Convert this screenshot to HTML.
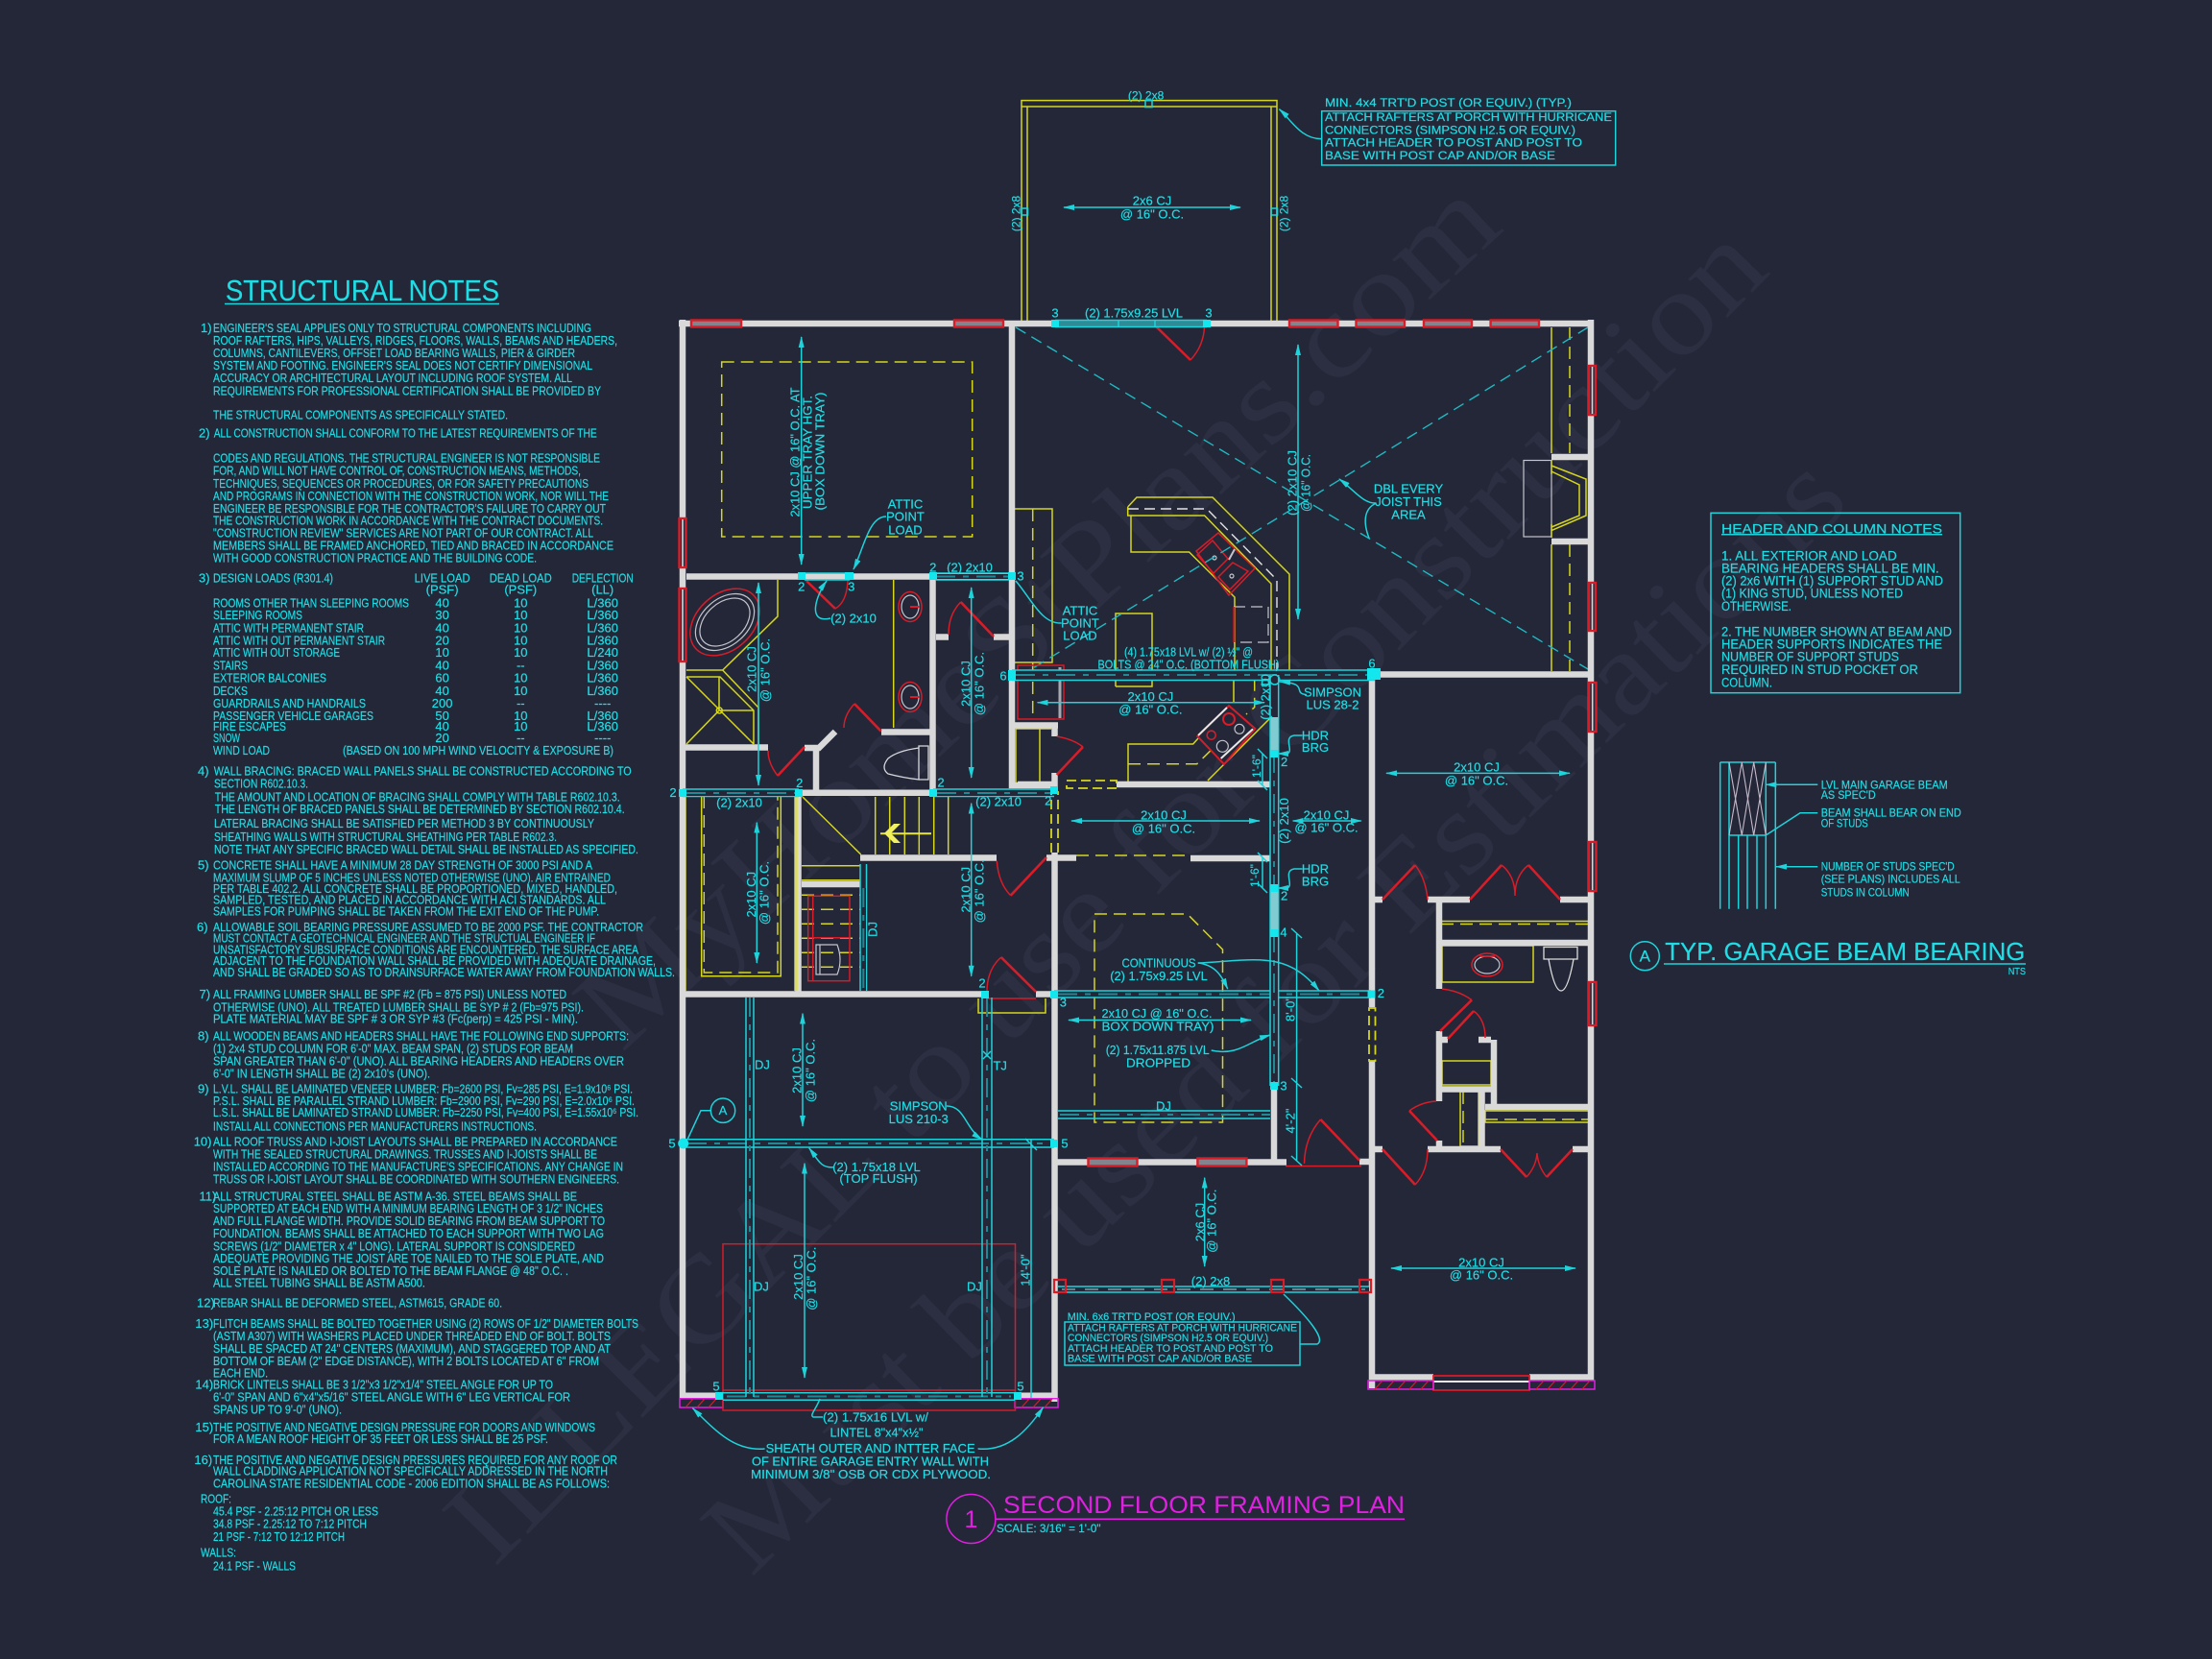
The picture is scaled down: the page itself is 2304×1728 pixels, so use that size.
<!DOCTYPE html>
<html lang="en"><head><meta charset="utf-8"><title>Second Floor Framing Plan</title>
<style>
html,body{margin:0;padding:0;background:#232738}
svg{display:block}
text{font-family:"Liberation Sans",sans-serif;fill:#1fdde4;stroke:#1fdde4;stroke-width:.2}
.n{font-size:13px}
.c{font-size:13px;text-anchor:middle;dominant-baseline:central}
.l{font-size:13px;dominant-baseline:central}
text.w{font-family:"Liberation Serif",serif;font-size:125px;fill:#2b2f41;stroke:none;text-anchor:middle;dominant-baseline:central}
.wall{fill:none;stroke:#d9d9d9;stroke-width:6.5}
.y{fill:none;stroke:#d6d61e;stroke-width:1.5}
.yd{fill:none;stroke:#d6d61e;stroke-width:1.5;stroke-dasharray:13 7}
.r{fill:none;stroke:#d81c28;stroke-width:1.5}
.rl{fill:none;stroke:#d81c28;stroke-width:2.6}
.g{fill:none;stroke:#c4c4cc;stroke-width:1.2}
.cy{fill:none;stroke:#1fd3da;stroke-width:1.5}
.cd{fill:none;stroke:#1fb9c2;stroke-width:1.4;stroke-dasharray:12 7}
.b{fill:none;stroke:#1fd3da;stroke-width:1.5}
.bc{fill:none;stroke:#1f8a96;stroke-width:2;stroke-dasharray:20 8 6 8}
.win{fill:#84848e;stroke:#d81c28;stroke-width:2.4}
.vw{fill:#2a2d3e;stroke:#d81c28;stroke-width:2.4}
.p{fill:#14e6ee}
.m{fill:none;stroke:#e020e0;stroke-width:1.5}
</style></head><body>
<svg xmlns="http://www.w3.org/2000/svg" width="2304" height="1728" viewBox="0 0 2304 1728">
<defs>
<marker id="a" viewBox="0 0 12 6" refX="11" refY="3" markerWidth="12" markerHeight="6" markerUnits="userSpaceOnUse" orient="auto-start-reverse"><path d="M0 0L12 3L0 6z" fill="#1fd3da"/></marker>
</defs>
<rect width="2304" height="1728" fill="#232738"/>
<!-- watermark -->
<text class="w" transform="translate(1080 638) rotate(-43)" textLength="1259" lengthAdjust="spacingAndGlyphs">MyHomeStPlans.com</text>
<text class="w" transform="translate(1151 930) rotate(-45.4)" textLength="1896" lengthAdjust="spacingAndGlyphs">ILLEGAL to use for Construction</text>
<text class="w" transform="translate(1327 1055) rotate(-44.3)" textLength="1602" lengthAdjust="spacingAndGlyphs">Must be used for Estimations</text>

<!-- structural notes -->
<text x="235" y="313" font-size="31" textLength="285" lengthAdjust="spacingAndGlyphs">STRUCTURAL NOTES</text>
<path d="M234 316.5H520" class="cy"/>
<g class="nt">
<text class="n" x="209" y="346">1)</text>
<text class="n" x="222" y="346" textLength="394" lengthAdjust="spacingAndGlyphs">ENGINEER'S SEAL APPLIES ONLY TO STRUCTURAL COMPONENTS INCLUDING</text>
<text class="n" x="222" y="359" textLength="421" lengthAdjust="spacingAndGlyphs">ROOF RAFTERS, HIPS, VALLEYS, RIDGES, FLOORS, WALLS, BEAMS AND HEADERS,</text>
<text class="n" x="222" y="372" textLength="377" lengthAdjust="spacingAndGlyphs">COLUMNS, CANTILEVERS, OFFSET LOAD BEARING WALLS, PIER &amp; GIRDER</text>
<text class="n" x="222" y="385" textLength="395" lengthAdjust="spacingAndGlyphs">SYSTEM AND FOOTING.  ENGINEER'S SEAL DOES NOT CERTIFY DIMENSIONAL</text>
<text class="n" x="222" y="398" textLength="374" lengthAdjust="spacingAndGlyphs">ACCURACY OR ARCHITECTURAL LAYOUT INCLUDING ROOF SYSTEM. ALL</text>
<text class="n" x="222" y="411.4" textLength="404" lengthAdjust="spacingAndGlyphs">REQUIREMENTS FOR PROFESSIONAL CERTIFICATION SHALL BE PROVIDED BY</text>
<text class="n" x="222" y="436.5" textLength="307" lengthAdjust="spacingAndGlyphs">THE STRUCTURAL COMPONENTS AS SPECIFICALLY STATED.</text>
<text class="n" x="207" y="455.5">2)</text>
<text class="n" x="222.7" y="455.5" textLength="399" lengthAdjust="spacingAndGlyphs">ALL CONSTRUCTION SHALL CONFORM TO THE LATEST REQUIREMENTS OF THE</text>
<text class="n" x="222" y="481.7" textLength="403" lengthAdjust="spacingAndGlyphs">CODES AND REGULATIONS. THE STRUCTURAL ENGINEER IS NOT RESPONSIBLE</text>
<text class="n" x="222" y="494.7" textLength="383" lengthAdjust="spacingAndGlyphs">FOR, AND WILL NOT HAVE CONTROL OF, CONSTRUCTION MEANS, METHODS,</text>
<text class="n" x="222" y="507.8" textLength="391" lengthAdjust="spacingAndGlyphs">TECHNIQUES, SEQUENCES OR PROCEDURES, OR FOR SAFETY PRECAUTIONS</text>
<text class="n" x="222" y="520.9" textLength="412" lengthAdjust="spacingAndGlyphs">AND PROGRAMS IN CONNECTION WITH THE CONSTRUCTION WORK, NOR WILL THE</text>
<text class="n" x="222" y="534" textLength="409" lengthAdjust="spacingAndGlyphs">ENGINEER BE RESPONSIBLE FOR THE CONTRACTOR'S FAILURE TO CARRY OUT</text>
<text class="n" x="222" y="546.7" textLength="406" lengthAdjust="spacingAndGlyphs">THE CONSTRUCTION WORK IN ACCORDANCE WITH THE CONTRACT DOCUMENTS.</text>
<text class="n" x="222" y="559.5" textLength="396" lengthAdjust="spacingAndGlyphs">"CONSTRUCTION REVIEW" SERVICES ARE NOT PART OF OUR CONTRACT. ALL</text>
<text class="n" x="222" y="572.6" textLength="417" lengthAdjust="spacingAndGlyphs">MEMBERS SHALL BE FRAMED ANCHORED, TIED AND BRACED IN ACCORDANCE</text>
<text class="n" x="222" y="585.6" textLength="337" lengthAdjust="spacingAndGlyphs">WITH GOOD CONSTRUCTION PRACTICE AND THE BUILDING CODE.</text>

<text class="n" x="207" y="606.3">3)</text>
<text class="n" x="222" y="606.3" textLength="125" lengthAdjust="spacingAndGlyphs">DESIGN LOADS (R301.4)</text>
<text class="n" x="460.6" y="606.3" text-anchor="middle" textLength="58" lengthAdjust="spacingAndGlyphs">LIVE LOAD</text>
<text class="n" x="542.3" y="606.3" text-anchor="middle" textLength="65" lengthAdjust="spacingAndGlyphs">DEAD LOAD</text>
<text class="n" x="627.7" y="606.3" text-anchor="middle" textLength="64" lengthAdjust="spacingAndGlyphs">DEFLECTION</text>
<text class="n" x="460.6" y="618.4" text-anchor="middle">(PSF)</text><text class="n" x="542.3" y="618.4" text-anchor="middle">(PSF)</text><text class="n" x="627.7" y="618.4" text-anchor="middle">(LL)</text>
<text class="n" x="222" y="632.5" textLength="204" lengthAdjust="spacingAndGlyphs">ROOMS OTHER THAN SLEEPING ROOMS</text>
<text class="n" x="222" y="645.2" textLength="93" lengthAdjust="spacingAndGlyphs">SLEEPING ROOMS</text>
<text class="n" x="222" y="658.3" textLength="157" lengthAdjust="spacingAndGlyphs">ATTIC WITH PERMANENT STAIR</text>
<text class="n" x="222" y="671.4" textLength="179" lengthAdjust="spacingAndGlyphs">ATTIC WITH OUT PERMANENT STAIR</text>
<text class="n" x="222" y="684.1" textLength="132" lengthAdjust="spacingAndGlyphs">ATTIC WITH OUT STORAGE</text>
<text class="n" x="222" y="697.6" textLength="36" lengthAdjust="spacingAndGlyphs">STAIRS</text>
<text class="n" x="222" y="710.6" textLength="118" lengthAdjust="spacingAndGlyphs">EXTERIOR BALCONIES</text>
<text class="n" x="222" y="724" textLength="36" lengthAdjust="spacingAndGlyphs">DECKS</text>
<text class="n" x="222" y="737.2" textLength="159" lengthAdjust="spacingAndGlyphs">GUARDRAILS AND HANDRAILS</text>
<text class="n" x="222" y="749.9" textLength="167" lengthAdjust="spacingAndGlyphs">PASSENGER VEHICLE GARAGES</text>
<text class="n" x="222" y="761" textLength="76" lengthAdjust="spacingAndGlyphs">FIRE ESCAPES</text>
<text class="n" x="222" y="773" textLength="28" lengthAdjust="spacingAndGlyphs">SNOW</text>
<text class="n" x="222" y="786" textLength="59" lengthAdjust="spacingAndGlyphs">WIND LOAD</text>
<text class="n" x="357" y="786" textLength="282" lengthAdjust="spacingAndGlyphs">(BASED ON 100 MPH WIND VELOCITY &amp; EXPOSURE B)</text>
<g class="vals" text-anchor="middle">
<text class="n" x="460.6" y="632.5">40</text><text class="n" x="542.3" y="632.5">10</text><text class="n" x="627.7" y="632.5">L/360</text>
<text class="n" x="460.6" y="645.2">30</text><text class="n" x="542.3" y="645.2">10</text><text class="n" x="627.7" y="645.2">L/360</text>
<text class="n" x="460.6" y="658.3">40</text><text class="n" x="542.3" y="658.3">10</text><text class="n" x="627.7" y="658.3">L/360</text>
<text class="n" x="460.6" y="671.4">20</text><text class="n" x="542.3" y="671.4">10</text><text class="n" x="627.7" y="671.4">L/360</text>
<text class="n" x="460.6" y="684.1">10</text><text class="n" x="542.3" y="684.1">10</text><text class="n" x="627.7" y="684.1">L/240</text>
<text class="n" x="460.6" y="697.6">40</text><text class="n" x="542.3" y="697.6">--</text><text class="n" x="627.7" y="697.6">L/360</text>
<text class="n" x="460.6" y="710.6">60</text><text class="n" x="542.3" y="710.6">10</text><text class="n" x="627.7" y="710.6">L/360</text>
<text class="n" x="460.6" y="724">40</text><text class="n" x="542.3" y="724">10</text><text class="n" x="627.7" y="724">L/360</text>
<text class="n" x="460.6" y="737.2">200</text><text class="n" x="542.3" y="737.2">--</text><text class="n" x="627.7" y="737.2">----</text>
<text class="n" x="460.6" y="749.9">50</text><text class="n" x="542.3" y="749.9">10</text><text class="n" x="627.7" y="749.9">L/360</text>
<text class="n" x="460.6" y="761">40</text><text class="n" x="542.3" y="761">10</text><text class="n" x="627.7" y="761">L/360</text>
<text class="n" x="460.6" y="773">20</text><text class="n" x="542.3" y="773">--</text><text class="n" x="627.7" y="773">----</text>
</g>

<text class="n" x="206" y="807.5">4)</text>
<text class="n" x="222.7" y="807.5" textLength="435" lengthAdjust="spacingAndGlyphs">WALL BRACING:  BRACED WALL PANELS SHALL BE CONSTRUCTED ACCORDING TO</text>
<text class="n" x="223" y="820.5" textLength="98" lengthAdjust="spacingAndGlyphs">SECTION R602.10.3.</text>
<text class="n" x="223.7" y="834.3" textLength="422" lengthAdjust="spacingAndGlyphs">THE AMOUNT AND LOCATION OF BRACING SHALL COMPLY WITH TABLE R602.10.3.</text>
<text class="n" x="223.7" y="847" textLength="427" lengthAdjust="spacingAndGlyphs">THE LENGTH OF BRACED PANELS SHALL BE DETERMINED BY SECTION R602.10.4.</text>
<text class="n" x="223" y="862.2" textLength="396" lengthAdjust="spacingAndGlyphs">LATERAL BRACING SHALL BE SATISFIED PER METHOD 3 BY CONTINUOUSLY</text>
<text class="n" x="223" y="876" textLength="357" lengthAdjust="spacingAndGlyphs">SHEATHING WALLS WITH STRUCTURAL SHEATHING PER TABLE R602.3.</text>
<text class="n" x="223" y="889" textLength="442" lengthAdjust="spacingAndGlyphs">NOTE THAT ANY SPECIFIC BRACED WALL DETAIL SHALL BE INSTALLED AS SPECIFIED.</text>
<text class="n" x="206" y="905.6">5)</text>
<text class="n" x="222" y="905.6" textLength="395" lengthAdjust="spacingAndGlyphs">CONCRETE SHALL HAVE A MINIMUM 28 DAY STRENGTH OF 3000 PSI AND A</text>
<text class="n" x="222" y="918.7" textLength="414" lengthAdjust="spacingAndGlyphs">MAXIMUM SLUMP OF 5 INCHES UNLESS NOTED OTHERWISE (UNO). AIR ENTRAINED</text>
<text class="n" x="222" y="930" textLength="421" lengthAdjust="spacingAndGlyphs">PER TABLE 402.2. ALL CONCRETE SHALL BE PROPORTIONED, MIXED, HANDLED,</text>
<text class="n" x="222" y="941.7" textLength="409" lengthAdjust="spacingAndGlyphs">SAMPLED, TESTED, AND PLACED IN ACCORDANCE WITH ACI STANDARDS. ALL</text>
<text class="n" x="222" y="953.5" textLength="402" lengthAdjust="spacingAndGlyphs">SAMPLES FOR PUMPING SHALL BE TAKEN FROM THE EXIT END OF THE PUMP.</text>
<text class="n" x="205" y="970">6)</text>
<text class="n" x="222" y="970" textLength="448" lengthAdjust="spacingAndGlyphs">ALLOWABLE SOIL BEARING PRESSURE ASSUMED TO BE 2000 PSF. THE CONTRACTOR</text>
<text class="n" x="222" y="981.7" textLength="398" lengthAdjust="spacingAndGlyphs">MUST CONTACT A GEOTECHNICAL ENGINEER AND THE STRUCTUAL ENGINEER IF</text>
<text class="n" x="222" y="993.4" textLength="443" lengthAdjust="spacingAndGlyphs">UNSATISFACTORY SUBSURFACE CONDITIONS ARE ENCOUNTERED. THE SURFACE AREA</text>
<text class="n" x="222" y="1005.1" textLength="461" lengthAdjust="spacingAndGlyphs">ADJACENT TO THE FOUNDATION WALL SHALL BE PROVIDED WITH ADEQUATE DRAINAGE,</text>
<text class="n" x="222" y="1016.8" textLength="481" lengthAdjust="spacingAndGlyphs">AND SHALL BE GRADED SO AS TO DRAINSURFACE WATER AWAY FROM FOUNDATION WALLS.</text>
<text class="n" x="207.5" y="1040.2">7)</text>
<text class="n" x="222" y="1040.2" textLength="368" lengthAdjust="spacingAndGlyphs">ALL FRAMING LUMBER SHALL BE SPF #2 (Fb = 875 PSI) UNLESS NOTED</text>
<text class="n" x="222" y="1053.3" textLength="386" lengthAdjust="spacingAndGlyphs">OTHERWISE (UNO). ALL TREATED LUMBER SHALL BE SYP # 2 (Fb=975 PSI).</text>
<text class="n" x="222" y="1065.7" textLength="380" lengthAdjust="spacingAndGlyphs">PLATE MATERIAL MAY BE SPF # 3 OR SYP #3 (Fc(perp) = 425 PSI - MIN).</text>
<text class="n" x="206" y="1083.3">8)</text>
<text class="n" x="222" y="1083.3" textLength="433" lengthAdjust="spacingAndGlyphs">ALL WOODEN BEAMS AND HEADERS SHALL HAVE THE FOLLOWING END SUPPORTS:</text>
<text class="n" x="222" y="1096.4" textLength="375" lengthAdjust="spacingAndGlyphs">(1) 2x4 STUD COLUMN FOR 6'-0" MAX. BEAM SPAN, (2) STUDS FOR BEAM</text>
<text class="n" x="222" y="1109.5" textLength="428" lengthAdjust="spacingAndGlyphs">SPAN GREATER THAN 6'-0" (UNO).  ALL BEARING HEADERS AND HEADERS OVER</text>
<text class="n" x="222" y="1122.5" textLength="226" lengthAdjust="spacingAndGlyphs">6'-0" IN LENGTH SHALL BE (2) 2x10's (UNO).</text>
<text class="n" x="206" y="1138.4">9)</text>
<text class="n" x="222" y="1138.4" textLength="437" lengthAdjust="spacingAndGlyphs">L.V.L.  SHALL BE LAMINATED VENEER LUMBER: Fb=2600 PSI, Fv=285 PSI, E=1.9x10⁶ PSI.</text>
<text class="n" x="222" y="1150.8" textLength="439" lengthAdjust="spacingAndGlyphs">P.S.L.  SHALL BE PARALLEL STRAND LUMBER: Fb=2900 PSI, Fv=290 PSI, E=2.0x10⁶ PSI.</text>
<text class="n" x="222" y="1163.2" textLength="443" lengthAdjust="spacingAndGlyphs">L.S.L.  SHALL BE LAMINATED STRAND LUMBER: Fb=2250 PSI, Fv=400 PSI, E=1.55x10⁶ PSI.</text>
<text class="n" x="222" y="1177.6" textLength="337" lengthAdjust="spacingAndGlyphs">INSTALL ALL CONNECTIONS PER MANUFACTURERS INSTRUCTIONS.</text>
<text class="n" x="201.7" y="1193.5">10)</text>
<text class="n" x="222" y="1193.5" textLength="421" lengthAdjust="spacingAndGlyphs">ALL ROOF TRUSS AND I-JOIST LAYOUTS SHALL BE PREPARED IN ACCORDANCE</text>
<text class="n" x="222" y="1206.6" textLength="400" lengthAdjust="spacingAndGlyphs">WITH THE SEALED STRUCTURAL DRAWINGS. TRUSSES AND I-JOISTS SHALL BE</text>
<text class="n" x="222" y="1219.7" textLength="427" lengthAdjust="spacingAndGlyphs">INSTALLED ACCORDING TO THE MANUFACTURE'S SPECIFICATIONS. ANY CHANGE IN</text>
<text class="n" x="222" y="1232.7" textLength="423" lengthAdjust="spacingAndGlyphs">TRUSS OR I-JOIST LAYOUT SHALL BE COORDINATED WITH SOUTHERN ENGINEERS.</text>
<text class="n" x="207.5" y="1250.3">11)</text>
<text class="n" x="222" y="1250.3" textLength="379" lengthAdjust="spacingAndGlyphs">ALL STRUCTURAL STEEL SHALL BE ASTM A-36. STEEL BEAMS SHALL BE</text>
<text class="n" x="222" y="1263" textLength="406" lengthAdjust="spacingAndGlyphs">SUPPORTED AT EACH END WITH A MINIMUM BEARING LENGTH OF 3 1/2" INCHES</text>
<text class="n" x="222" y="1276.1" textLength="408" lengthAdjust="spacingAndGlyphs">AND FULL FLANGE WIDTH. PROVIDE SOLID BEARING FROM BEAM SUPPORT TO</text>
<text class="n" x="222" y="1289.2" textLength="407" lengthAdjust="spacingAndGlyphs">FOUNDATION.  BEAMS SHALL BE ATTACHED TO EACH SUPPORT WITH TWO LAG</text>
<text class="n" x="222" y="1302.3" textLength="377" lengthAdjust="spacingAndGlyphs">SCREWS (1/2" DIAMETER x 4" LONG). LATERAL SUPPORT IS CONSIDERED</text>
<text class="n" x="222" y="1315" textLength="407" lengthAdjust="spacingAndGlyphs">ADEQUATE PROVIDING THE JOIST ARE TOE NAILED TO THE SOLE PLATE, AND</text>
<text class="n" x="222" y="1328.1" textLength="370" lengthAdjust="spacingAndGlyphs">SOLE PLATE IS NAILED OR BOLTED TO THE BEAM FLANGE @ 48" O.C. .</text>
<text class="n" x="222" y="1340.5" textLength="221" lengthAdjust="spacingAndGlyphs">ALL STEEL TUBING SHALL BE ASTM A500.</text>
<text class="n" x="205" y="1361.7">12)</text>
<text class="n" x="222" y="1361.7" textLength="301" lengthAdjust="spacingAndGlyphs">REBAR SHALL BE DEFORMED STEEL, ASTM615, GRADE 60.</text>
<text class="n" x="203.4" y="1383">13)</text>
<text class="n" x="222" y="1383" textLength="443" lengthAdjust="spacingAndGlyphs">FLITCH BEAMS SHALL BE BOLTED TOGETHER USING (2) ROWS OF 1/2" DIAMETER BOLTS</text>
<text class="n" x="222" y="1396" textLength="414" lengthAdjust="spacingAndGlyphs">(ASTM A307) WITH WASHERS PLACED UNDER THREADED END OF BOLT.  BOLTS</text>
<text class="n" x="222" y="1409" textLength="414" lengthAdjust="spacingAndGlyphs">SHALL BE SPACED AT 24" CENTERS (MAXIMUM), AND STAGGERED TOP AND AT</text>
<text class="n" x="222" y="1422" textLength="402" lengthAdjust="spacingAndGlyphs">BOTTOM OF BEAM (2" EDGE DISTANCE), WITH 2 BOLTS LOCATED AT 6" FROM</text>
<text class="n" x="222" y="1434.7" textLength="57" lengthAdjust="spacingAndGlyphs">EACH END.</text>
<text class="n" x="203.4" y="1446.7">14)</text>
<text class="n" x="222" y="1446.7" textLength="354" lengthAdjust="spacingAndGlyphs">BRICK LINTELS SHALL BE 3 1/2"x3 1/2"x1/4" STEEL ANGLE FOR UP TO</text>
<text class="n" x="222" y="1459.7" textLength="372" lengthAdjust="spacingAndGlyphs">6'-0" SPAN AND 6"x4"x5/16" STEEL ANGLE WITH 6" LEG VERTICAL FOR</text>
<text class="n" x="222" y="1472.3" textLength="134" lengthAdjust="spacingAndGlyphs">SPANS UP TO 9'-0" (UNO).</text>
<text class="n" x="203.4" y="1491">15)</text>
<text class="n" x="222" y="1491" textLength="398" lengthAdjust="spacingAndGlyphs">THE POSITIVE AND NEGATIVE DESIGN PRESSURE FOR DOORS AND WINDOWS</text>
<text class="n" x="222" y="1503" textLength="349" lengthAdjust="spacingAndGlyphs">FOR A MEAN ROOF HEIGHT OF 35 FEET OR LESS SHALL BE 25 PSF.</text>
<text class="n" x="202.4" y="1525">16)</text>
<text class="n" x="222" y="1525" textLength="421" lengthAdjust="spacingAndGlyphs">THE POSITIVE AND NEGATIVE DESIGN PRESSURES REQUIRED FOR ANY ROOF OR</text>
<text class="n" x="222" y="1536.3" textLength="411" lengthAdjust="spacingAndGlyphs">WALL CLADDING APPLICATION NOT SPECIFICALLY ADDRESSED IN THE NORTH</text>
<text class="n" x="222" y="1549.3" textLength="413" lengthAdjust="spacingAndGlyphs">CAROLINA STATE RESIDENTIAL CODE - 2006 EDITION SHALL BE AS FOLLOWS:</text>
<text class="n" x="209" y="1565.7" textLength="32" lengthAdjust="spacingAndGlyphs">ROOF:</text>
<text class="n" x="222" y="1578.7" textLength="172" lengthAdjust="spacingAndGlyphs">45.4 PSF - 2.25:12 PITCH OR LESS</text>
<text class="n" x="222" y="1591.7" textLength="160" lengthAdjust="spacingAndGlyphs">34.8 PSF - 2.25:12 TO 7:12 PITCH</text>
<text class="n" x="222" y="1605" textLength="137" lengthAdjust="spacingAndGlyphs">21 PSF - 7:12 TO 12:12 PITCH</text>
<text class="n" x="209" y="1621.3" textLength="37" lengthAdjust="spacingAndGlyphs">WALLS:</text>
<text class="n" x="222" y="1635.7" textLength="86" lengthAdjust="spacingAndGlyphs">24.1 PSF - WALLS</text>
</g>

<!-- porch -->
<path class="y" d="M1064 335V104.6H1330V335M1070 335V111H1324V335M1064 111H1330"/>
<rect class="cy" x="1193" y="104.6" width="7" height="7" stroke-width="1"/>
<rect class="cy" x="1064" y="217" width="6.5" height="7" stroke-width="1"/>
<rect class="cy" x="1324" y="217" width="6.5" height="7" stroke-width="1"/>
<path class="cy" marker-start="url(#a)" marker-end="url(#a)" d="M1108 216H1292"/>

<!-- thin yellow / interior detail -->
<path class="yd" d="M751.7 377H1012.7V559H751.7Z"/>
<path class="y" d="M1057 530H1096V690H1057"/>
<path class="yd" d="M1075.7 530V750"/>
<path class="y" d="M1058 815V759H1095M1083 759V815" stroke-width="1.8"/>
<path class="y" d="M1174.7 528L1184 518H1263L1343 598V699M1174.7 528V537H1254.6L1324 608V699M1178 537V575H1238.6L1286 622V699"/>
<path d="M1175 530H1257L1330 604V699" fill="none" stroke="#e4e4e4" stroke-width="1.4" stroke-dasharray="11 6"/>
<path class="g" d="M1285 632H1321V669H1285" stroke-dasharray="12 6"/>
<path d="M1285.4 632V669" stroke="#d81c28" stroke-width="2"/>
<path class="r" d="M1269 555L1307 592L1280 620L1246 574Z M1263 563L1247 578L1264 597L1279 582ZM1284 586L1269 601L1281 614L1300 595Z"/>
<circle class="g" cx="1265" cy="581" r="2"/><circle class="g" cx="1283" cy="600" r="2"/>
<path d="M1280 583L1286 572" stroke="#c4c4cc" stroke-width="2"/>
<path class="y" d="M1162 715V639H1200V715H1162"/>
<path class="y" d="M1616 341V472M1616 567V699"/>
<path class="yd" d="M1635 341V472M1635 567V699"/>
<rect class="g" x="1587" y="479.5" width="29" height="79.5"/>
<path class="y" d="M1616 485L1652 499V537L1616 552.6M1616 491L1645 505V537L1616 549M1616 479V494M1616 546V560" stroke-width="2"/>
<path class="cd" d="M1058 341L1654 697M1654 341L1058 707"/>
<rect class="r" x="1060" y="693" width="48" height="56" stroke-width="2.2"/>
<path d="M1104 695V748" stroke="#a8a8b0" stroke-width="3" fill="none"/>
<path class="y" d="M930.7 604V758M810 604V642L752.7 698H715M790 775V737L752.7 698M785 775V740L750 705H715M715 705L785 775M715 775L749 740L785 740M749 705V740" />
<circle class="y" cx="749.3" cy="740" r="3"/>
<ellipse class="r" cx="755" cy="648" rx="41" ry="29" transform="rotate(-42 755 648)" stroke-width="1.6"/>
<ellipse class="g" cx="755" cy="648" rx="35" ry="24" transform="rotate(-42 755 648)"/>
<ellipse class="g" cx="755" cy="648" rx="30" ry="20" transform="rotate(-42 755 648)"/>
<ellipse class="r" cx="948" cy="632" rx="12" ry="15.5"/><ellipse class="r" cx="948" cy="726" rx="12" ry="15.5"/>
<ellipse class="g" cx="948" cy="632" rx="9" ry="12"/><ellipse class="g" cx="948" cy="726" rx="9" ry="12"/>
<path d="M948 632H958M948 726H958" stroke="#d81c28" stroke-width="2"/>
<path d="M957 779Q935 782 925 790Q917 800 925 806Q940 810 957 812ZM957 777H967V812H957Z" fill="none" stroke="#d8d8dc" stroke-width="1.3"/>
<!-- closet left yellow -->
<path class="y" d="M714 830V1032M730.7 829V1016.7H813.3V829M828 830V1032" />
<path class="yd" d="M733.3 829V1013H810V829"/>
<!-- stairs -->
<path class="y" d="M911.7 830V890M926.7 830V890M942.3 830V890M957.3 830V890M972.7 830V890M987.7 830V890M836 830L896.7 890M835 901.7H896M835 916.7H896"/>
<path d="M917 868.3H970" stroke="#e8e840" stroke-width="2"/>
<path d="M938 858L928 868L938 878L931 878L921 868L931 858Z" fill="#f0f060"/>
<path class="yd" d="M835 932.3H896M835 947.3H896M835 962.3H896M835 977.3H896M835 992.3H896M835 1007.3H896"/>
<rect class="r" x="841.7" y="933.3" width="43.3" height="88.4" stroke-width="1.8"/>
<path class="r" d="M846.7 933.3V1021.7M841.7 976.7H885" stroke-width="1.8"/>
<path class="g" d="M850 984H872Q878 1000 872 1015H850ZM854 984V1015"/>
<path class="y" d="M1019 1040V1055H1089V1040"/>
<!-- tray 2 -->
<path class="yd" d="M1140 952H1236.7L1273.5 989V1169H1140Z"/>
<!-- kitchen lower -->
<path class="y" d="M1175 815V775H1242.7L1248 769M1323 748L1258 813M1285 703V732"/>
<path class="yd" d="M1175 795.7H1246.7L1271 772M1281 760L1293 748M1306.7 706.7V736.7L1298 744"/>
<path d="M1280 735L1307.3 759L1275 796L1247.3 767Z" fill="#232738" stroke="#d81c28" stroke-width="2"/>
<path d="M1248 766L1278 737M1271.7 790L1305 759.3" stroke="#e8e8e8" stroke-width="2"/>
<circle cx="1280" cy="749" r="6" fill="none" stroke="#d81c28" stroke-width="2"/><circle cx="1291" cy="759.3" r="5" class="g"/><circle cx="1261.7" cy="765.7" r="4.5" fill="none" stroke="#d81c28" stroke-width="1.6"/><circle cx="1273.3" cy="777.3" r="6" class="g"/>
<!-- right wing details -->
<rect class="y" x="1501" y="959.5" width="155" height="20.5" stroke-width="1.8"/>
<path class="yd" d="M1501 962.5H1656M1547 1166H1655M1524 1137V1194"/>
<rect class="y" x="1502" y="985" width="95" height="38"/>
<ellipse class="r" cx="1549" cy="1005" rx="16" ry="12" stroke-width="1.1"/><ellipse class="g" cx="1549" cy="1005" rx="13" ry="9"/>
<path d="M1541 996H1557" stroke="#d81c28" stroke-width="1.6"/>
<path d="M1608 986.5H1643V999H1608ZM1613 999Q1619 1032 1626 1032Q1633 1032 1639 999" fill="none" stroke="#dcdcdc" stroke-width="1.3"/>
<rect class="y" x="1502" y="1105" width="51" height="25" stroke-width="1.8"/>
<rect class="y" x="1521" y="1137" width="19" height="57" stroke-width="1.8"/>
<rect class="y" x="1547" y="1157" width="108" height="12" stroke-width="1.5"/>

<!-- walls -->
<path class="wall" d="M711 333V1456M707 337H1660M1657 333V1438M1054 337V753M715 600.5H1054M971.5 604V823M711 778.5H800M870 762L853 779H838M850 782V823M918 762.5H970M1054 755.5H1102M1098.5 755V767M1054 753V818H1095M832 825.7H972M831.5 826V1035M711 1035.5H1027M1079 1035.5H1098M896 893.5H1038M835 921H896M1098.5 805V823M1098.5 888V1460M1060 817H1098M1163 817H1325M1090 893.5H1121M1240 894H1325M1327 703V1212M1099 1210.5H1340M1416 1210H1426M1429 703V1049M1429 1105V1446M1432 702.5H1657M711 1453.7H753M1057 1453.7H1100M1429 1434.5H1493M1593 1434.5H1657M1616 476H1654M1616 564H1654"/>
<path class="wall" d="M975 663.5H988M1035 663.5H1051M1432 937H1440M1487 937H1531M1625 937H1654M1499 937V1030M1502 982H1654M1499 1074V1147M1556 1083V1150M1499 1134.5H1559M1543.5 1137V1197M1547 1153H1655M1432 1197H1440M1487 1197H1563M1638 1197H1654M1499 1188V1197M1553 1083H1540M1502 1083H1508" stroke-width="6"/>
<!-- opening dash overlays -->
<rect x="1111" y="813" width="52" height="8" fill="#232738" stroke="#d6d61e" stroke-width="1.8" stroke-dasharray="10 5"/>
<rect x="1095" y="825" width="7" height="62" fill="#232738" stroke="#d6d61e" stroke-width="1.8" stroke-dasharray="10 5"/>
<rect x="1426" y="1050" width="6.5" height="55" fill="#232738" stroke="#d6d61e" stroke-width="1.8" stroke-dasharray="10 5"/>
<path class="yd" d="M1121 891H1240"/>
<path d="M829.7 830V1032" stroke="#e0e040" stroke-width="2"/>

<!-- windows -->
<rect class="win" x="720" y="333.5" width="52" height="7"/><rect class="win" x="994" y="333.5" width="51" height="7"/>
<rect class="win" x="1343" y="333.5" width="50.5" height="7"/><rect class="win" x="1412.5" y="333.5" width="50.5" height="7"/><rect class="win" x="1483" y="333.5" width="50" height="7"/><rect class="win" x="1552.6" y="333.5" width="50.4" height="7"/>
<rect class="win" x="1133.5" y="1206.5" width="51" height="8"/><rect class="win" x="1247.4" y="1206.5" width="51" height="8"/>
<rect class="vw" x="707.5" y="540" width="7" height="51"/><rect class="vw" x="707.5" y="613" width="7" height="76"/>
<rect class="vw" x="1655" y="381" width="7" height="51"/><rect class="vw" x="1655" y="607" width="7" height="50"/><rect class="vw" x="1655" y="711" width="7.5" height="51"/><rect class="vw" x="1655" y="877" width="7.5" height="51"/><rect class="vw" x="1655" y="1023" width="7.5" height="45"/>
<path d="M711 541V590M711 614V688M1658.5 382V431M1658.5 608V656M1658.7 712V761M1658.7 878V927M1658.7 1024V1067" stroke="#d8d8dc" stroke-width="1.6"/>
<rect x="1493" y="1433" width="100" height="15" fill="#232738" stroke="#d81c28" stroke-width="1.8"/>
<path d="M1493 1439H1593" stroke="#e8e8e8" stroke-width="2"/>
<!-- hatch -->
<path class="m" d="M1425 1438H1493V1447H1425ZM1593 1438H1661V1447H1593ZM708 1456.7H753V1466H708ZM1057 1456.7H1102V1466H1057Z"/>
<path d="M1432 1447l8-9M1444 1447l8-9M1456 1447l8-9M1468 1447l8-9M1480 1447l8-9M1600 1447l8-9M1612 1447l8-9M1624 1447l8-9M1636 1447l8-9M1648 1447l8-9M714 1466l8-9M726 1466l8-9M738 1466l8-9M1064 1466l8-9M1076 1466l8-9M1088 1466l8-9" stroke="#d81c28" stroke-width="1.2"/>

<!-- doors -->
<path class="rl" d="M1203 339L1240 375M840 605L870 634M1000.7 627L1035 663M917.7 761.7L890 733M838 778L810 808M1100.7 807L1128 778M1090 893L1052.7 932.7M1079 1033L1042.7 997M1416 1208.6L1375.5 1166M1440 937L1474 901M1531 937L1564 901M1625 937L1592 901M1533 1041.6L1500 1074M1508 1082L1535 1053M1440 1197L1474 1234M1497 1188L1468 1157M1563 1197L1590 1226M1638 1197L1611 1226"/>
<path class="r" d="M870 634Q882 627 883 605M988 661Q988 640 1000.7 627M1240 375Q1254 360 1254.6 339M890 733Q879 745 879 758M810 808Q800 795 800 782M1128 778Q1118 770 1100.7 767M1052.7 932.7Q1040 920 1038.3 896.7M1042.7 997Q1028 1010 1028 1033M1375.5 1166Q1359 1185 1358.5 1212M1474 901Q1485 915 1487 937M1564 901Q1578 912 1578 933M1592 901Q1578 912 1578 933M1533 1041.6Q1520 1032 1502 1030M1535 1053Q1547 1062 1547 1081M1474 1234Q1487 1220 1487 1197M1468 1157Q1480 1148 1496 1147M1590 1226Q1600 1215 1601 1201M1611 1226Q1602 1215 1601 1201M1028 1040H1079M1339 1214.6H1418"/>

<!-- garage outline -->
<rect class="r" x="753" y="1295.7" width="304.5" height="173.3" stroke-width="1.5"/>
<path class="r" d="M753 1448H1057"/>

<!-- beams -->
<g>
<rect x="1099" y="333.5" width="158" height="7" fill="#2f8b96"/>
<path class="b" d="M1099 333.5H1257M1099 340.5H1257M1165 333V341M1203 333V341"/>
<path class="b" d="M838 597H885M838 604H885M975 597H1051M975 604H1051"/><rect x="975" y="598" width="76" height="5" fill="#232738"/><path class="bc" d="M975 600.5H1051"/>
<path class="b" d="M711 822H832M711 829.5H832M972 822H1098M972 829.5H1098"/>
<rect x="715" y="823" width="113" height="6" fill="#232738"/><rect x="976" y="823" width="118" height="6" fill="#232738"/>
<path class="bc" d="M715 826H828M976 826H1094"/>
<rect x="1054" y="698" width="378" height="10.5" fill="#232738"/>
<path class="b" d="M1054 698H1432M1054 708.5H1432"/>
<path class="bc" d="M1058 703H1428" stroke-width="3"/>
<path class="b" d="M1098 1032H1428M1098 1039H1428"/><rect x="1102" y="1033" width="322" height="5" fill="#232738"/><path class="bc" d="M1102 1035.5H1424"/>
<rect x="715" y="1187" width="380" height="8" fill="#232738"/>
<path class="b" d="M712 1186.7H1098M712 1195H1098"/><path class="bc" d="M716 1191H1095"/>
<path class="b" d="M1102 1157H1323M1102 1165H1323"/><path class="bc" d="M1104 1161H1323"/>
<path class="b" d="M753 1450.7H1057M753 1458.3H1057"/><path class="bc" d="M757 1454.5H1053"/>
<rect x="1102" y="1340" width="324" height="6" fill="#232738"/>
<path class="b" d="M1102 1340H1426M1102 1346H1426"/><path d="M1106 1343H1422" fill="none" stroke="#8fb4ba" stroke-width="1.2" stroke-dasharray="14 10"/>
<rect x="1323" y="703" width="8.7" height="428" fill="#232738"/>
<path class="b" d="M1323 703V1131M1331.7 703V1131"/>
<rect x="1323.5" y="747" width="7.7" height="35" fill="#7fcdd2"/><rect x="1323.5" y="928" width="7.7" height="41" fill="#7fcdd2"/>
<path class="bc" d="M1327 785V928M1327 972V1130"/>
<path class="b" d="M777 1039V1455M785 1039V1455M1023 1039V1455M1033 1039V1455"/><path class="bc" d="M781 1039V1455M1028 1039V1455"/>
<path class="b" d="M896 900V1032M902.5 900V1032"/><rect x="897" y="925" width="5" height="107" fill="#232738"/><path class="bc" d="M899.3 925V1032"/>
</g>
<path class="cy" d="M1024 1095L1032 1103M1032 1095L1024 1103" stroke-width="2.2"/>
<circle class="cy" cx="1327.7" cy="708" r="5"/><circle class="cy" cx="1318" cy="711" r="3.5"/>

<!-- red post squares -->
<path d="M1098 1333H1110V1346H1098ZM1210 1333H1223V1346H1210ZM1324 1333H1337V1346H1324ZM1416 1333H1428V1346H1416Z" fill="none" stroke="#d81c28" stroke-width="2.2"/>

<!-- cyan posts -->
<g class="p">
<rect x="1095" y="333" width="8" height="8"/><rect x="1253" y="333" width="8" height="8"/>
<rect x="831" y="596" width="8" height="8"/><rect x="880" y="596" width="9" height="8"/><rect x="968" y="596" width="8" height="8"/><rect x="1050" y="596" width="8" height="8"/>
<rect x="1050" y="698" width="8" height="11"/><rect x="1424" y="696" width="14" height="12"/>
<rect x="707" y="822" width="8" height="8"/><rect x="828" y="822" width="8" height="8"/><rect x="968" y="822" width="8" height="8"/><rect x="1094" y="819" width="8" height="8"/>
<rect x="1022" y="1032" width="8" height="8"/><rect x="1094" y="1032" width="8" height="8"/><rect x="1424.5" y="1031.5" width="8" height="8"/>
<rect x="1094" y="1187" width="8" height="8"/><circle cx="711.7" cy="1191" r="5.5"/>
<rect x="745" y="1450" width="8" height="8"/><rect x="1056" y="1450" width="8" height="8"/>
<rect x="1323" y="781" width="8" height="8"/><rect x="1323" y="921" width="8" height="8"/><rect x="1323" y="968" width="8" height="8"/><rect x="1323" y="1127" width="8" height="8"/>
</g>

<!-- dimension arrows -->
<g class="cy">
<path marker-start="url(#a)" marker-end="url(#a)" d="M1352 359V645"/>
<path marker-start="url(#a)" marker-end="url(#a)" d="M834.7 351V588"/>
<path marker-start="url(#a)" marker-end="url(#a)" d="M790 607V818"/>
<path marker-start="url(#a)" marker-end="url(#a)" d="M1011.7 612V810"/>
<path marker-start="url(#a)" marker-end="url(#a)" d="M1011.7 836.7V1016.7"/>
<path marker-start="url(#a)" marker-end="url(#a)" d="M788.3 856.7V1003"/>
<path marker-start="url(#a)" marker-end="url(#a)" d="M836 1055.7V1173"/>
<path marker-start="url(#a)" marker-end="url(#a)" d="M838 1211.7V1435"/>
<path marker-start="url(#a)" marker-end="url(#a)" d="M1254.7 1226.7V1319"/>
<path marker-start="url(#a)" marker-end="url(#a)" d="M1080.6 731.8H1317"/>
<path marker-start="url(#a)" marker-end="url(#a)" d="M1116 855H1312"/>
<path marker-start="url(#a)" marker-end="url(#a)" d="M1346.7 855H1417.8"/>
<path marker-start="url(#a)" marker-end="url(#a)" d="M1113 1062.5H1303"/>
<path marker-start="url(#a)" marker-end="url(#a)" d="M1444 805.4H1635"/>
<path marker-start="url(#a)" marker-end="url(#a)" d="M1449 1321H1641"/>
</g>
<!-- dim lines / leaders -->
<path class="cy" d="M1350.6 972V1208.6M1345 967L1356 977M1345 1123L1356 1133M1345 1204L1356 1214M1074 1187V1456M1068 1186L1080 1198M1315 785V817.5M1310 780L1320 790M1310 813L1320 823M1315 892.5V925M1310 888L1320 898M1310 920L1320 930"/>
<g class="cy" stroke-width="1.4">
<path marker-end="url(#a)" d="M923 538C905 538 900 570 889 593"/>
<path marker-end="url(#a)" d="M865 644C840 650 850 620 861 605"/>
<path d="M1105.7 649C1085 650 1075 625 1058 605"/>
<path marker-end="url(#a)" d="M1376.7 144.6C1355 145 1345 125 1332.5 113.7"/>
<path marker-end="url(#a)" d="M1433.5 524C1420 525 1410 510 1395 499"/>
<path d="M1433.5 524C1420 530 1420 545 1426 560.5"/>
<path marker-end="url(#a)" d="M1361 723.6C1345 722 1365 712 1333 710"/>
<path marker-end="url(#a)" d="M1356.6 766H1348C1335 768 1350 785 1339 785H1331"/>
<path marker-end="url(#a)" d="M1356.6 905H1348C1335 907 1350 925 1339 925H1331"/>
<path marker-end="url(#a)" d="M1247.8 1003C1265 1005 1272 1015 1278.7 1030"/>
<path marker-end="url(#a)" d="M1247.8 1003C1310 1000 1340 990 1374 1032"/>
<path marker-end="url(#a)" d="M1261.7 1094C1290 1100 1300 1085 1323 1078"/>
<path marker-end="url(#a)" d="M986 1152C1005 1152 1005 1175 1023 1187"/>
<path marker-end="url(#a)" d="M868 1215.7C855 1217 852 1208 842.7 1195.7"/>
<path d="M857 1476H847C843 1474 850 1468 854 1457"/>
<path marker-end="url(#a)" d="M796.6 1509C765 1512 745 1490 721.5 1466.7"/>
<path marker-end="url(#a)" d="M1018.6 1509C1050 1512 1070 1490 1086.5 1466"/>
<path d="M740 1156.7H730L716 1187"/>
<path d="M1354 1400H1372C1382 1395 1360 1370 1337 1348"/>
</g>
<circle class="cy" cx="753" cy="1156.7" r="12.7"/>
<text class="c" x="753" y="1156.7" font-size="15">A</text>

<!-- plan labels -->
<g>
<text class="c" x="1193.6" y="99.5" style="font-size:12px">(2) 2x8</text>
<text class="c" transform="translate(1058.5 222.5) rotate(-90)" style="font-size:12px">(2) 2x8</text>
<text class="c" transform="translate(1337.6 222.5) rotate(-90)" style="font-size:12px">(2) 2x8</text>
<text class="c" x="1200" y="209">2x6 CJ</text><text class="c" x="1200" y="223">@ 16" O.C.</text>
<text class="l" x="1380" y="107.8" textLength="257" lengthAdjust="spacingAndGlyphs" style="font-size:11.5px">MIN. 4x4 TRT'D POST (OR EQUIV.) (TYP.)</text>
<rect class="cy" x="1376.7" y="115.7" width="306" height="56.3"/>
<text class="l" x="1380" y="123" textLength="299" lengthAdjust="spacingAndGlyphs" style="font-size:11.5px">ATTACH RAFTERS AT PORCH WITH HURRICANE</text>
<text class="l" x="1380" y="136.7" textLength="261" lengthAdjust="spacingAndGlyphs" style="font-size:11.5px">CONNECTORS (SIMPSON H2.5 OR EQUIV.)</text>
<text class="l" x="1380" y="149.7" textLength="268" lengthAdjust="spacingAndGlyphs" style="font-size:11.5px">ATTACH HEADER TO POST AND POST TO</text>
<text class="l" x="1380" y="163" textLength="240" lengthAdjust="spacingAndGlyphs" style="font-size:11.5px">BASE WITH POST CAP AND/OR BASE</text>
<text class="c" x="1099" y="326">3</text><text class="c" x="1259" y="326">3</text>
<text class="c" x="1181" y="326" textLength="102" lengthAdjust="spacingAndGlyphs">(2) 1.75x9.25 LVL</text>
<text class="c" transform="translate(1346 503) rotate(-90)" textLength="68" lengthAdjust="spacingAndGlyphs">(2) 2x10 CJ</text>
<text class="c" transform="translate(1360 503) rotate(-90)" textLength="60" lengthAdjust="spacingAndGlyphs">@ 16" O.C.</text>
<text class="c" x="1467" y="509">DBL EVERY</text><text class="c" x="1467" y="522.6">JOIST THIS</text><text class="c" x="1467" y="536">AREA</text>
<text class="c" transform="translate(828 471) rotate(-90)" textLength="135" lengthAdjust="spacingAndGlyphs">2x10 CJ @ 16" O.C. AT</text>
<text class="c" transform="translate(841 471) rotate(-90)" textLength="118" lengthAdjust="spacingAndGlyphs">UPPER TRAY HGT.</text>
<text class="c" transform="translate(854 470) rotate(-90)" textLength="123" lengthAdjust="spacingAndGlyphs">(BOX DOWN TRAY)</text>
<text class="c" x="943" y="525">ATTIC</text><text class="c" x="943" y="538">POINT</text><text class="c" x="943" y="552">LOAD</text>
<text class="c" x="971.7" y="591">2</text><text class="c" x="1010" y="591">(2) 2x10</text><text class="c" x="1063" y="600">3</text>
<text class="c" x="834.7" y="611">2</text><text class="c" x="886.7" y="611">3</text>
<text class="c" x="889" y="644">(2) 2x10</text>
<text class="c" x="1125" y="636">ATTIC</text><text class="c" x="1125" y="649">POINT</text><text class="c" x="1125" y="662">LOAD</text>
<text class="c" x="1045" y="704">6</text><text class="c" x="1429" y="691">6</text>
<text class="c" x="1238" y="679" textLength="134" lengthAdjust="spacingAndGlyphs">(4) 1.75x18 LVL w/ (2) ½" @</text>
<text class="c" x="1238" y="692" textLength="189" lengthAdjust="spacingAndGlyphs">BOLTS @ 24" O.C. (BOTTOM FLUSH)</text>
<text class="c" transform="translate(783 697) rotate(-90)">2x10 CJ</text><text class="c" transform="translate(797 698) rotate(-90)">@ 16" O.C.</text>
<text class="c" transform="translate(1006 712) rotate(-90)">2x10 CJ</text><text class="c" transform="translate(1020 712) rotate(-90)">@ 16" O.C.</text>
<text class="c" x="1198.4" y="725.7">2x10 CJ</text><text class="c" x="1198.4" y="739">@ 16" O.C.</text>
<text class="c" x="1388" y="721">SIMPSON</text><text class="c" x="1388" y="734">LUS 28-2</text>
<text class="c" x="1370" y="766">HDR</text><text class="c" x="1370" y="778.6">BRG</text>
<text class="c" x="1370" y="905">HDR</text><text class="c" x="1370" y="918">BRG</text>
<text class="c" x="1337.6" y="793.6">2</text><text class="c" x="1337.6" y="933">2</text><text class="c" x="1337" y="971">4</text><text class="c" x="1337" y="1131">3</text>
<text class="c" transform="translate(1309 798) rotate(-90)" style="font-size:12px">1'-6"</text>
<text class="c" transform="translate(1307 912) rotate(-90)" style="font-size:12px">1'-6"</text>
<text class="c" transform="translate(1318 726) rotate(-90)">(2) 2x10</text>
<text class="c" transform="translate(1337.6 855) rotate(-90)">(2) 2x10</text>
<text class="c" x="1212" y="849">2x10 CJ</text><text class="c" x="1212" y="863">@ 16" O.C.</text>
<text class="c" x="1381.5" y="849">2x10 CJ</text><text class="c" x="1381.5" y="862">@ 16" O.C.</text>
<text class="c" x="1538" y="799">2x10 CJ</text><text class="c" x="1538" y="813">@ 16" O.C.</text>
<text class="c" x="1543" y="1315">2x10 CJ</text><text class="c" x="1543" y="1328">@ 16" O.C.</text>
<text class="c" x="701" y="825.7">2</text><text class="c" x="832.7" y="815.7">2</text><text class="c" x="980" y="815">2</text><text class="c" x="1091.7" y="834">2</text>
<text class="c" x="770" y="836">(2) 2x10</text><text class="c" x="1040" y="835">(2) 2x10</text>
<text class="c" transform="translate(1006 926.7) rotate(-90)">2x10 CJ</text><text class="c" transform="translate(1020 928.3) rotate(-90)">@ 16" O.C.</text>
<text class="c" transform="translate(782.7 931.7) rotate(-90)">2x10 CJ</text><text class="c" transform="translate(796 930) rotate(-90)">@ 16" O.C.</text>
<text class="c" transform="translate(909 968) rotate(-90)">DJ</text>
<text class="c" x="1023" y="1024">2</text><text class="c" x="1107.4" y="1044">3</text><text class="c" x="1438.4" y="1034.6">2</text>
<text class="c" x="1207" y="1003" textLength="77" lengthAdjust="spacingAndGlyphs">CONTINUOUS</text>
<text class="c" x="1207" y="1016.4" textLength="101.6" lengthAdjust="spacingAndGlyphs">(2) 1.75x9.25 LVL</text>
<text class="c" x="1205" y="1055.7" textLength="115" lengthAdjust="spacingAndGlyphs">2x10 CJ @ 16" O.C.</text>
<text class="c" x="1206" y="1069" textLength="117" lengthAdjust="spacingAndGlyphs">BOX DOWN TRAY)</text>
<text class="c" x="1205.7" y="1093.6" textLength="108" lengthAdjust="spacingAndGlyphs">(2) 1.75x11.875 LVL</text>
<text class="c" x="1206.5" y="1107" textLength="67" lengthAdjust="spacingAndGlyphs">DROPPED</text>
<text class="c" x="1212" y="1152">DJ</text>
<text class="c" transform="translate(1344 1051) rotate(-90)">8'-0"</text>
<text class="c" transform="translate(1344 1167.5) rotate(-90)">4'-2"</text>
<text class="c" x="700" y="1191">5</text><text class="c" x="1109" y="1191">5</text>
<text class="c" x="956.7" y="1152">SIMPSON</text><text class="c" x="956.7" y="1165.7">LUS 210-3</text>
<text class="c" x="794" y="1109">DJ</text><text class="c" x="1041.7" y="1110">TJ</text>
<text class="c" x="913" y="1215.7">(2) 1.75x18 LVL</text><text class="c" x="915" y="1227.7">(TOP FLUSH)</text>
<text class="c" transform="translate(830 1115) rotate(-90)">2x10 CJ</text><text class="c" transform="translate(844 1115) rotate(-90)">@ 16" O.C.</text>
<text class="c" transform="translate(831.5 1330) rotate(-90)">2x10 CJ</text><text class="c" transform="translate(845 1331.7) rotate(-90)">@ 16" O.C.</text>
<text class="c" x="793" y="1340">DJ</text><text class="c" x="1015" y="1340">DJ</text>
<text class="c" transform="translate(1068 1323) rotate(-90)">14'-0"</text>
<text class="c" x="746" y="1444">5</text><text class="c" x="1063" y="1444">5</text>
<text class="c" x="912" y="1476" textLength="110" lengthAdjust="spacingAndGlyphs">(2) 1.75x16 LVL w/</text>
<text class="c" x="913" y="1492" textLength="97" lengthAdjust="spacingAndGlyphs">LINTEL 8"x4"x½"</text>
<text class="c" x="906.6" y="1508.7" textLength="218" lengthAdjust="spacingAndGlyphs">SHEATH OUTER AND INTTER FACE</text>
<text class="c" x="906.5" y="1522" textLength="247" lengthAdjust="spacingAndGlyphs">OF ENTIRE GARAGE ENTRY WALL WITH</text>
<text class="c" x="907" y="1535.3" textLength="250" lengthAdjust="spacingAndGlyphs">MINIMUM 3/8" OSB OR CDX PLYWOOD.</text>
<text class="c" x="1261" y="1334.7">(2) 2x8</text>
<text class="c" transform="translate(1250 1273) rotate(-90)">2x6 CJ</text><text class="c" transform="translate(1262 1271.7) rotate(-90)">@ 16" O.C.</text>
<text class="l" x="1111.7" y="1372" textLength="175" lengthAdjust="spacingAndGlyphs" style="font-size:11px">MIN. 6x6 TRT'D POST (OR EQUIV.)</text>
<rect class="cy" x="1109" y="1377" width="245" height="45"/>
<text class="l" x="1112" y="1383.7" textLength="239" lengthAdjust="spacingAndGlyphs" style="font-size:11px">ATTACH RAFTERS AT PORCH WITH HURRICANE</text>
<text class="l" x="1112" y="1394" textLength="209" lengthAdjust="spacingAndGlyphs" style="font-size:11px">CONNECTORS (SIMPSON H2.5 OR EQUIV.)</text>
<text class="l" x="1112" y="1405" textLength="214" lengthAdjust="spacingAndGlyphs" style="font-size:11px">ATTACH HEADER TO POST AND POST TO</text>
<text class="l" x="1112" y="1415.3" textLength="192" lengthAdjust="spacingAndGlyphs" style="font-size:11px">BASE WITH POST CAP AND/OR BASE</text>
</g>

<!-- title -->
<circle cx="1011.4" cy="1582" r="25.5" class="m"/>
<text x="1011.4" y="1591" text-anchor="middle" font-size="25" style="fill:#e020e0;stroke:none">1</text>
<text x="1045" y="1576" font-size="25" textLength="418" lengthAdjust="spacingAndGlyphs" style="fill:#e020e0;stroke:none">SECOND FLOOR FRAMING PLAN</text>
<path d="M1037 1582.3H1463" class="m"/>
<text x="1038" y="1596" font-size="12" textLength="108.6" lengthAdjust="spacingAndGlyphs">SCALE: 3/16" = 1'-0"</text>

<!-- header notes -->
<rect class="cy" x="1782" y="534.3" width="259.7" height="187.4"/>
<text class="l" x="1793" y="550.7" textLength="230" lengthAdjust="spacingAndGlyphs" style="font-size:14px">HEADER AND COLUMN NOTES</text>
<path class="cy" d="M1793 556.7H2023"/>
<text class="l" x="1793" y="578.3" textLength="182.7" lengthAdjust="spacingAndGlyphs" style="font-size:14px">1. ALL EXTERIOR AND LOAD</text>
<text class="l" x="1793" y="591.3" textLength="226.7" lengthAdjust="spacingAndGlyphs" style="font-size:14px">BEARING HEADERS SHALL BE MIN.</text>
<text class="l" x="1793" y="604.7" textLength="231" lengthAdjust="spacingAndGlyphs" style="font-size:14px">(2) 2x6 WITH (1) SUPPORT STUD AND</text>
<text class="l" x="1793" y="617.7" textLength="189" lengthAdjust="spacingAndGlyphs" style="font-size:14px">(1) KING STUD, UNLESS NOTED</text>
<text class="l" x="1793" y="631" textLength="73" lengthAdjust="spacingAndGlyphs" style="font-size:14px">OTHERWISE.</text>
<text class="l" x="1793" y="657.3" textLength="240" lengthAdjust="spacingAndGlyphs" style="font-size:14px">2. THE NUMBER SHOWN AT BEAM AND</text>
<text class="l" x="1793" y="670.7" textLength="230" lengthAdjust="spacingAndGlyphs" style="font-size:14px">HEADER SUPPORTS INDICATES THE</text>
<text class="l" x="1793" y="683.7" textLength="185" lengthAdjust="spacingAndGlyphs" style="font-size:14px">NUMBER OF SUPPORT STUDS</text>
<text class="l" x="1793" y="697" textLength="205" lengthAdjust="spacingAndGlyphs" style="font-size:14px">REQUIRED IN STUD POCKET OR</text>
<text class="l" x="1793" y="710.3" textLength="53" lengthAdjust="spacingAndGlyphs" style="font-size:14px">COLUMN.</text>

<!-- detail A -->
<path class="cy" d="M1791.7 794V946.7M1801 794V946.7M1839.3 794V946.7M1849.3 794V946.7M1810.7 870V946.7M1820 870V946.7M1830 870V946.7M1791.7 794H1849.3M1801 870H1839.3"/>
<path d="M1801 794L1814.3 870L1826.7 794L1839.3 870M1814.3 794L1801 870M1814.3 794L1826.7 870L1839.3 794" fill="none" stroke="#c4b8c8" stroke-width="1.1"/>
<path class="cy" marker-end="url(#a)" d="M1893.3 817.3H1839.3"/>
<path class="cy" d="M1893.3 846.7H1875L1839.3 870"/>
<path class="cy" marker-end="url(#a)" d="M1893.3 902.7H1850"/>
<text class="l" x="1896.7" y="817.3" textLength="132" lengthAdjust="spacingAndGlyphs" style="font-size:12px">LVL MAIN GARAGE BEAM</text>
<text class="l" x="1896.7" y="828" textLength="57" lengthAdjust="spacingAndGlyphs" style="font-size:12px">AS SPEC'D</text>
<text class="l" x="1896.7" y="846.7" textLength="146" lengthAdjust="spacingAndGlyphs" style="font-size:12px">BEAM SHALL BEAR ON END</text>
<text class="l" x="1896.7" y="857.7" textLength="49" lengthAdjust="spacingAndGlyphs" style="font-size:12px">OF STUDS</text>
<text class="l" x="1896.7" y="902.7" textLength="139" lengthAdjust="spacingAndGlyphs" style="font-size:12px">NUMBER OF STUDS SPEC'D</text>
<text class="l" x="1896.7" y="915.7" textLength="145" lengthAdjust="spacingAndGlyphs" style="font-size:12px">(SEE PLANS) INCLUDES ALL</text>
<text class="l" x="1896.7" y="929.3" textLength="92" lengthAdjust="spacingAndGlyphs" style="font-size:12px">STUDS IN COLUMN</text>
<circle class="cy" cx="1713.3" cy="995.7" r="15"/>
<text class="c" x="1713.3" y="996" style="font-size:17px">A</text>
<text x="1734.3" y="1000" font-size="26" textLength="375" lengthAdjust="spacingAndGlyphs">TYP. GARAGE BEAM BEARING</text>
<path class="cy" d="M1733 1004H2110"/>
<text x="2091.7" y="1015" font-size="10" textLength="18.3" lengthAdjust="spacingAndGlyphs">NTS</text>
</svg>
</body></html>
